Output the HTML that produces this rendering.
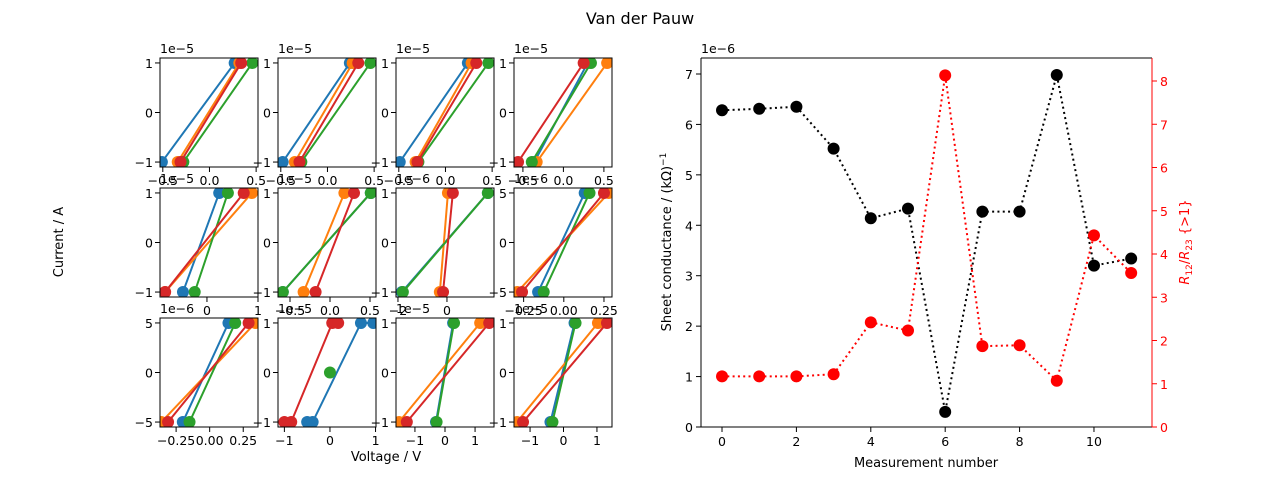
<!DOCTYPE html>
<html><head><meta charset="utf-8"><style>
body{margin:0;background:#fff;}
svg{display:block;font-family:"DejaVu Sans","Liberation Sans",sans-serif;}
</style></head><body>
<svg id="fig" width="1280" height="480" viewBox="0 0 1280 480" xmlns="http://www.w3.org/2000/svg">
<rect width="1280" height="480" fill="#fff"/>
<text x="640" y="24" font-size="16" text-anchor="middle">Van der Pauw</text>
<text transform="translate(63,242) rotate(-90)" font-size="13" text-anchor="middle">Current / A</text>
<text x="386" y="461" font-size="13" text-anchor="middle">Voltage / V</text>
<g id="small"></g>
<g id="main"></g>
</svg>
<script>
// ---- small IV subplot data ----
const colLeft = [160, 278, 396, 514];
const rowTop = [58, 188, 318];
const C = ['#1f77b4', '#ff7f0e', '#2ca02c', '#d62728'];
const xDomains = [
 [-0.53,0.52],[-0.53,0.52],[-0.53,0.52],[-0.61,0.60],
 [-0.92,1.0],[-0.65,0.575],[-2.08,1.92],[-0.31,0.30],
 [-0.37,0.36],[-1.14,1.01],[-1.63,1.63],[-1.48,1.45]];
const yLimits = [1.1,1.1,1.1,1.1, 1.1,1.1,1.1,5.5, 5.5,1.1,1.1,1.1];
const xTicks = [
 [-0.5,0,0.5],[-0.5,0,0.5],[-0.5,0,0.5],[-0.5,0,0.5],
 [0,1],[-0.5,0,0.5],[-2,0],[-0.25,0,0.25],
 [-0.25,0,0.25],[-1,0,1],[-1,0,1],[-1,0,1]];
const xTickLabels = [
 ['−0.5','0.0','0.5'],['−0.5','0.0','0.5'],['−0.5','0.0','0.5'],['−0.5','0.0','0.5'],
 ['0','1'],['−0.5','0.0','0.5'],['−2','0'],['−0.25','0.00','0.25'],
 ['−0.25','0.00','0.25'],['−1','0','1'],['−1','0','1'],['−1','0','1']];
const yTicks = [
 [-1,0,1],[-1,0,1],[-1,0,1],[-1,0,1],
 [-1,0,1],[-1,0,1],[-1,0,1],[-5,0,5],
 [-5,0,5],[-1,0,1],[-1,0,1],[-1,0,1]];
const offsets = ['1e−5','1e−5','1e−5','1e−5','1e−5','1e−5','1e−6','1e−6','1e−6','1e−5','1e−5','1e−5'];
const seriesX = [
 [[-0.51,0.27],[-0.34,0.32],[-0.28,0.46],[-0.31,0.34]],
 [[-0.48,0.24],[-0.35,0.27],[-0.28,0.46],[-0.30,0.33]],
 [[-0.49,0.24],[-0.32,0.28],[-0.29,0.46],[-0.30,0.33]],
 [[-0.36,0.30],[-0.33,0.54],[-0.39,0.34],[-0.56,0.25]],
 [[-0.47,0.24],[-0.82,0.88],[-0.24,0.41],[-0.82,0.72]],
 [[-0.59,0.51],[-0.33,0.18],[-0.59,0.51],[-0.18,0.30]],
 [[-1.84,1.67],[-0.29,0.04],[-1.80,1.67],[-0.16,0.24]],
 [[-0.16,0.13],[-0.29,0.28],[-0.125,0.16],[-0.26,0.25]],
 [[-0.20,0.14],[-0.36,0.34],[-0.15,0.19],[-0.31,0.29]],
 [[-0.50,-0.38,0.68,0.95],[],[0],[-1.0,-0.85,0.05,0.18]],
 [[-0.30,0.27],[-1.53,1.17],[-0.28,0.30],[-1.27,1.47]],
 [[-0.39,0.33],[-1.39,1.03],[-0.33,0.36],[-1.21,1.30]]];
const seriesY = [
 [[-1,1],[-1,1],[-1,1],[-1,1]],[[-1,1],[-1,1],[-1,1],[-1,1]],[[-1,1],[-1,1],[-1,1],[-1,1]],[[-1,1],[-1,1],[-1,1],[-1,1]],
 [[-1,1],[-1,1],[-1,1],[-1,1]],[[-1,1],[-1,1],[-1,1],[-1,1]],[[-1,1],[-1,1],[-1,1],[-1,1]],[[-5,5],[-5,5],[-5,5],[-5,5]],
 [[-5,5],[-5,5],[-5,5],[-5,5]],[[-1,-1,1,1],[],[0],[-1,-1,1,1]],[[-1,1],[-1,1],[-1,1],[-1,1]],[[-1,1],[-1,1],[-1,1],[-1,1]]];

// ---- main chart data ----
const measurement = [0,1,2,3,4,5,6,7,8,9,10,11];
const conductance = [6.28,6.31,6.35,5.52,4.14,4.33,0.30,4.27,4.27,6.98,3.20,3.34];
const ratio = [1.17,1.17,1.17,1.22,2.42,2.23,8.13,1.87,1.89,1.07,4.43,3.56];
const xTicksMain = [0,2,4,6,8,10];
const yTicksLeft = [0,1,2,3,4,5,6,7];
const yTicksRight = [0,1,2,3,4,5,6,7,8];

const NS = 'http://www.w3.org/2000/svg';
function mk(tag, attrs, parent, txt){
  const e = document.createElementNS(NS, tag);
  for (const k in attrs) e.setAttribute(k, attrs[k]);
  if (txt !== undefined) e.textContent = txt;
  parent.appendChild(e); return e;
}
const W = 98, H = 109, FS = 12.5;
const small = document.getElementById('small');
for (let i = 0; i < 12; i++){
  const r = Math.floor(i/4), c = i%4;
  const L = colLeft[c], T = rowTop[r];
  const xd = xDomains[i], yl = yLimits[i];
  const sx = v => L + (v - xd[0])/(xd[1]-xd[0])*W;
  const sy = v => T + H/2 - v/yl*(H/2);
  const g = mk('g', {}, small);
  
  
  const clipId = 'cl' + i;
  const cp = mk('clipPath', {id: clipId}, g);
  mk('rect', {x: L, y: T, width: W, height: H}, cp);
  const plot = mk('g', {'clip-path': 'url(#' + clipId + ')'}, g);
  for (let s = 0; s < 4; s++){
    const xs = seriesX[i][s], ys = seriesY[i][s];
    if (!xs.length) continue;
    if (xs.length > 1){
      const pl = mk('polyline', {points: xs.map((x,k)=>sx(x)+','+sy(ys[k])).join(' '), fill:'none', stroke:C[s], 'stroke-width':2}, plot);
      
      
    }
    xs.forEach((x,k)=>{
      const m = mk('circle', {cx: sx(x), cy: sy(ys[k]), r: 6, fill: C[s]}, plot);
      
      
    });
  }
  mk('rect', {x: L, y: T, width: W, height: H, fill:'none', stroke:'#000', 'stroke-width':1}, g);
  xTicks[i].forEach((t,k)=>{
    const x = sx(t);
    mk('line', {x1:x, x2:x, y1:T+H, y2:T+H+5, stroke:'#000'}, g);
    const tl = mk('text', {x:x, y:T+H+18, 'font-size':FS, 'text-anchor':'middle'}, g, xTickLabels[i][k]);
    
    
  });
  yTicks[i].forEach(t=>{
    const y = sy(t);
    mk('line', {x1:L-5, x2:L, y1:y, y2:y, stroke:'#000'}, g);
    const tl = mk('text', {x:L-7, y:y+5, 'font-size':FS, 'text-anchor':'end'}, g, t<0 ? '−'+Math.abs(t) : String(t));
    
    
  });
  const ot = mk('text', {x:L, y:T-5, 'font-size':FS}, g, offsets[i]);
  
  
}

// ---- main chart ----
const main = document.getElementById('main');
const ML = 701, MR = 1152, MT = 58, MB = 427;
const xMin = -0.565, xMax = 11.56, yLMax = 7.317, yRMax = 8.532;
const mx = v => ML + (v - xMin)/(xMax - xMin)*(MR-ML);
const myL = v => MB - v/yLMax*(MB-MT);
const myR = v => MB - v/yRMax*(MB-MT);
const bl = mk('polyline', {points: measurement.map((m,k)=>mx(m)+','+myL(conductance[k])).join(' '), fill:'none', stroke:'#000', 'stroke-width':2, 'stroke-dasharray':'2,3.3'}, main);


measurement.forEach((m,k)=>{
  const p = mk('circle', {cx:mx(m), cy:myL(conductance[k]), r:6, fill:'#000'}, main);
  
  
});
const rl = mk('polyline', {points: measurement.map((m,k)=>mx(m)+','+myR(ratio[k])).join(' '), fill:'none', stroke:'#f00', 'stroke-width':2, 'stroke-dasharray':'2,3.3'}, main);


measurement.forEach((m,k)=>{
  const p = mk('circle', {cx:mx(m), cy:myR(ratio[k]), r:6, fill:'#f00'}, main);
  
  
});
mk('line', {x1:ML, x2:MR, y1:MT, y2:MT, stroke:'#000'}, main);
mk('line', {x1:ML, x2:MR, y1:MB, y2:MB, stroke:'#000'}, main);
mk('line', {x1:ML, x2:ML, y1:MT, y2:MB, stroke:'#000'}, main);
mk('line', {x1:MR, x2:MR, y1:MT, y2:MB, stroke:'#f00'}, main);
xTicksMain.forEach(t=>{
  const x = mx(t);
  mk('line', {x1:x, x2:x, y1:MB, y2:MB+5, stroke:'#000'}, main);
  const tl = mk('text', {x:x, y:MB+19, 'font-size':FS, 'text-anchor':'middle'}, main, String(t));
  
  
});
yTicksLeft.forEach(t=>{
  const y = myL(t);
  mk('line', {x1:ML-5, x2:ML, y1:y, y2:y, stroke:'#000'}, main);
  const tl = mk('text', {x:ML-8, y:y+5, 'font-size':FS, 'text-anchor':'end'}, main, String(t));
  
  
});
yTicksRight.forEach(t=>{
  const y = myR(t);
  mk('line', {x1:MR, x2:MR+5, y1:y, y2:y, stroke:'#f00'}, main);
  const tl = mk('text', {x:MR+8, y:y+5, 'font-size':FS, fill:'#f00'}, main, String(t));
  
  
});
</script>
<script>
const fig = document.getElementById('fig');
const addT = (html) => { const g = document.createElementNS('http://www.w3.org/2000/svg','g'); g.innerHTML = html; fig.appendChild(g); };
addT('<text x="701" y="53" font-size="12.5">1e−6</text>' +
 '<text x="926" y="467" font-size="13" text-anchor="middle">Measurement number</text>' +
 '<text transform="translate(671,242) rotate(-90)" font-size="13" text-anchor="middle">Sheet conductance / (kΩ)<tspan dy="-5" font-size="9">−1</tspan></text>' +
 '<text transform="translate(1189,242) rotate(-90)" font-size="13" text-anchor="middle" fill="#f00"><tspan font-style="italic">R</tspan><tspan dy="3" font-size="9">12</tspan><tspan dy="-3">/</tspan><tspan font-style="italic">R</tspan><tspan dy="3" font-size="9">23</tspan><tspan dy="-3"> {&gt;1}</tspan></text>');
</script>
</body></html>
